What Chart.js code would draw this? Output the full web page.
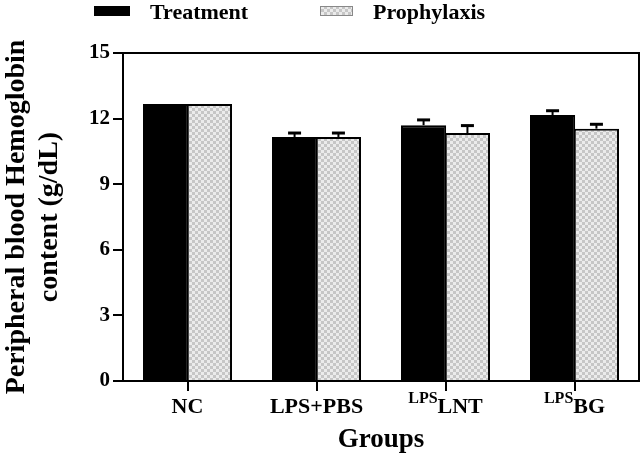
<!DOCTYPE html>
<html>
<head>
<meta charset="utf-8">
<script src="https://cdn.jsdelivr.net/npm/chart.js@4/dist/chart.umd.min.js"></script>
<style>
    html, body { margin: 0; padding: 0; background: #fff; }
    #wrap { width: 642px; height: 456px; }
</style>
</head>
<body>
<div id="wrap"><canvas id="hbChart"></canvas></div>
<script>
// Chart Data
const groups = ['NC', 'LPS+PBS', 'LNT', 'BG'];
const groupSup = ['', '', 'LPS', 'LPS'];
const treatment = [12.67, 11.16, 11.70, 12.16];
const treatmentErr = [0, 0.18, 0.24, 0.20];
const prophylaxis = [12.67, 11.16, 11.34, 11.54];
const prophylaxisErr = [0, 0.18, 0.34, 0.20];
const yTicks = [0, 3, 6, 9, 12, 15];

const serif = '"Liberation Serif", "Times New Roman", serif';

// checker pattern for the Prophylaxis bars
function makeChecker() {
    const c = document.createElement('canvas');
    c.width = 6;
    c.height = 6;
    const g = c.getContext('2d');
    g.fillStyle = '#ebebeb';
    g.fillRect(0, 0, 6, 6);
    g.fillStyle = '#c6c6c6';
    g.fillRect(0, 0, 3, 3);
    g.fillRect(3, 3, 3, 3);
    return g.createPattern(c, 'repeat');
}
const checker = makeChecker();

// Error bars (upper only) + frame + group labels + legend
const extras = {
    id: 'extras',
    afterDatasetsDraw(chart) {
        const ctx = chart.ctx;
        const y = chart.scales.y;
        const errs = [treatmentErr, prophylaxisErr];
        ctx.save();
        ctx.strokeStyle = '#000';
        chart.data.datasets.forEach((ds, di) => {
            chart.getDatasetMeta(di).data.forEach((bar, i) => {
                const e = errs[di][i];
                if (!e) return;
                const top = y.getPixelForValue(ds.data[i] + e);
                ctx.lineWidth = 2;
                ctx.beginPath();
                ctx.moveTo(bar.x, bar.y);
                ctx.lineTo(bar.x, top);
                ctx.stroke();
                ctx.lineWidth = 3;
                ctx.beginPath();
                ctx.moveTo(bar.x - 6.5, top);
                ctx.lineTo(bar.x + 6.5, top);
                ctx.stroke();
            });
        });
        // top and right side of the box
        const a = chart.chartArea;
        ctx.lineWidth = 2;
        ctx.beginPath();
        ctx.moveTo(a.left, a.top);
        ctx.lineTo(a.right, a.top);
        ctx.lineTo(a.right, a.bottom);
        ctx.stroke();
        ctx.restore();
    },
    afterDraw(chart) {
        const ctx = chart.ctx;
        const x = chart.scales.x;
        ctx.save();
        ctx.fillStyle = '#000';
        ctx.textBaseline = 'alphabetic';
        // group labels with superscript prefix
        groups.forEach((g, i) => {
            const cx = x.getPixelForValue(i);
            ctx.font = 'bold 16px ' + serif;
            const supW = groupSup[i] ? ctx.measureText(groupSup[i]).width : 0;
            ctx.font = 'bold 22px ' + serif;
            const mainW = ctx.measureText(g).width;
            const start = cx - (supW + mainW) / 2;
            if (supW) {
                ctx.font = 'bold 16px ' + serif;
                ctx.textAlign = 'left';
                ctx.fillText(groupSup[i], start, 403);
            }
            ctx.font = 'bold 22px ' + serif;
            ctx.textAlign = 'left';
            ctx.fillText(g, start + supW, 413);
        });
        // legend
        ctx.fillStyle = '#000';
        ctx.fillRect(94, 6, 36, 10);
        ctx.fillStyle = checker;
        ctx.fillRect(320, 6, 33, 10);
        ctx.strokeStyle = '#888';
        ctx.lineWidth = 1;
        ctx.strokeRect(320.5, 6.5, 32, 9);
        ctx.fillStyle = '#000';
        ctx.font = 'bold 22px ' + serif;
        ctx.textAlign = 'left';
        ctx.fillText('Treatment', 150, 19);
        ctx.fillText('Prophylaxis', 373, 19);
        ctx.restore();
    }
};

new Chart(document.getElementById('hbChart'), {
    type: 'bar',
    data: {
        labels: groups,
        datasets: [
            {
                label: 'Treatment',
                data: treatment,
                backgroundColor: '#000',
                borderColor: '#000',
                borderWidth: 2,
                categoryPercentage: 0.68,
                barPercentage: 1.03
            },
            {
                label: 'Prophylaxis',
                data: prophylaxis,
                backgroundColor: checker,
                borderColor: '#000',
                borderWidth: 2,
                categoryPercentage: 0.68,
                barPercentage: 1.03
            }
        ]
    },
    options: {
        responsive: true,
        maintainAspectRatio: false,
        animation: false,
        layout: { padding: { top: 53, right: 3, left: 0, bottom: 0 } },
        plugins: {
            legend: { display: false },
            tooltip: { enabled: false }
        },
        scales: {
            x: {
                afterFit: s => { s.height = 75; },
                grid: {
                    offset: false,
                    drawOnChartArea: false,
                    color: '#000',
                    lineWidth: 2,
                    tickLength: 10
                },
                border: { color: '#000', width: 2 },
                ticks: { display: false },
                title: {
                    display: true,
                    text: 'Groups',
                    color: '#000',
                    font: { family: serif, size: 27, weight: 'bold', lineHeight: 1.2 },
                    padding: { top: 0, bottom: 0 }
                }
            },
            y: {
                min: 0,
                max: 15,
                afterFit: s => { s.width = 123; },
                afterBuildTicks: s => { s.ticks = yTicks.map(v => ({ value: v })); },
                grid: {
                    drawOnChartArea: false,
                    color: '#000',
                    lineWidth: 2,
                    tickLength: 10
                },
                border: { color: '#000', width: 2 },
                ticks: {
                    color: '#000',
                    padding: 3,
                    font: { family: serif, size: 21, weight: 'bold' }
                },
                title: {
                    display: true,
                    text: ['Peripheral blood Hemoglobin', 'content (g/dL)'],
                    color: '#000',
                    font: { family: serif, size: 28, weight: 'bold', lineHeight: 1.18 },
                    padding: { top: 0, bottom: 0 }
                }
            }
        }
    },
    plugins: [extras]
});
</script>
</body>
</html>
